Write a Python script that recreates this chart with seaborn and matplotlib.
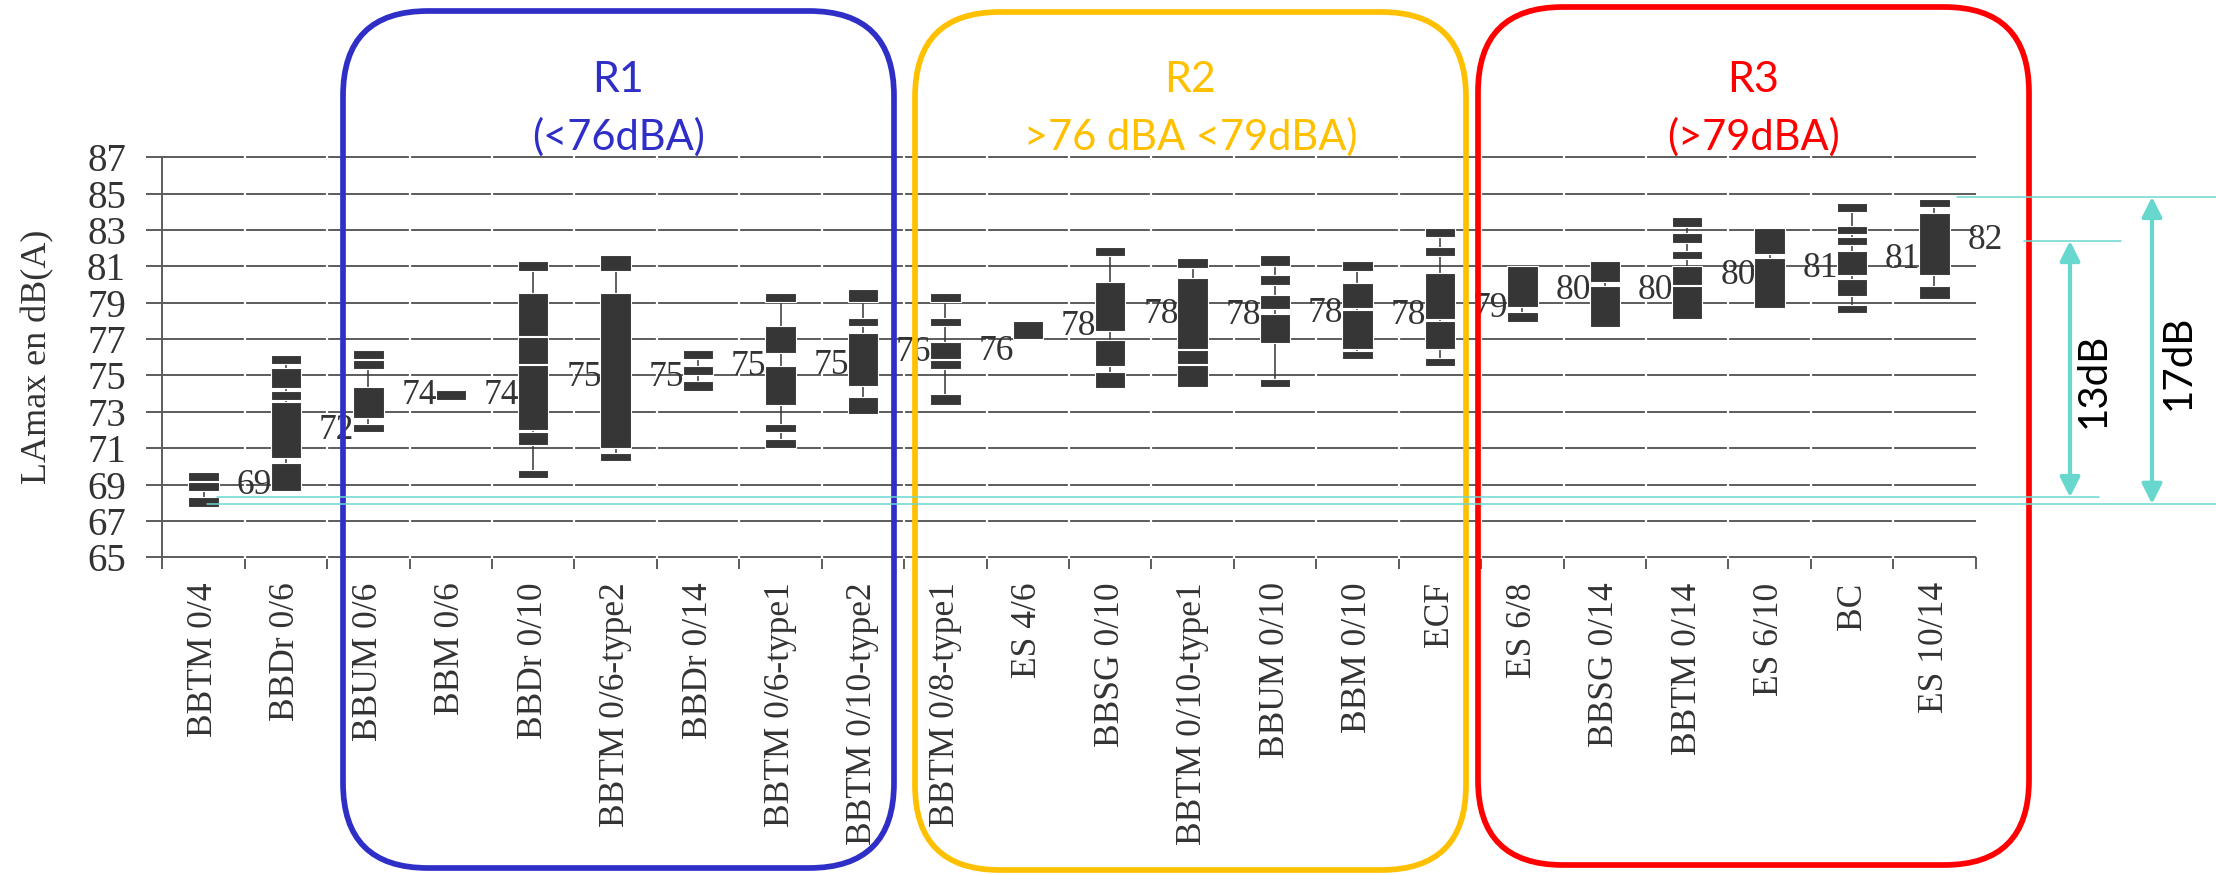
import matplotlib
matplotlib.use("Agg")
import matplotlib.pyplot as plt
import matplotlib.transforms as mtransforms
from matplotlib.patches import FancyBboxPatch
import seaborn as sns

# -------- Data -------- #

categories = [
    "BBTM 0/4", "BBDr 0/6", "BBUM 0/6", "BBM 0/6", "BBDr 0/10", "BBTM 0/6-type2",
    "BBDr 0/14", "BBTM 0/6-type1", "BBTM 0/10-type2", "BBTM 0/8-type1", "ES 4/6",
    "BBSG 0/10", "BBTM 0/10-type1", "BBUM 0/10", "BBM 0/10", "ECF", "ES 6/8",
    "BBSG 0/14", "BBTM 0/14", "ES 6/10", "BC", "ES 10/14",
]

# dark blocks (low, high) in dB(A) for each category
segments = [
    [(69.18, 69.71), (68.64, 69.13), (67.78, 68.33)],
    [(75.64, 76.12), (74.30, 75.41), (73.66, 74.17), (70.44, 73.53), (68.64, 70.18)],
    [(75.90, 76.38), (75.38, 75.83), (72.64, 74.34), (71.87, 72.33)],
    [(73.66, 74.19)],
    [(80.77, 81.32), (77.19, 79.53), (75.64, 77.10), (71.98, 75.55), (71.19, 71.89), (69.34, 69.82)],
    [(80.77, 81.60), (71.00, 79.53), (70.27, 70.76)],
    [(75.90, 76.38), (75.03, 75.52), (74.17, 74.69)],
    [(79.02, 79.53), (76.21, 77.71), (73.38, 75.52), (71.87, 72.33), (71.00, 71.51)],
    [(79.02, 79.77), (77.70, 78.17), (74.43, 77.36), (72.89, 73.84)],
    [(79.02, 79.53), (77.70, 78.17), (75.90, 76.84), (75.38, 75.83), (73.38, 74.00)],
    [(77.02, 77.98)],
    [(81.55, 82.05), (77.42, 80.15), (75.50, 76.96), (74.30, 75.20)],
    [(80.90, 81.45), (76.47, 80.34), (75.64, 76.38), (74.39, 75.55)],
    [(81.04, 81.60), (80.00, 80.53), (78.68, 79.40), (76.81, 78.40), (74.35, 74.83)],
    [(80.77, 81.32), (78.70, 80.08), (76.47, 78.58), (75.90, 76.36)],
    [(82.60, 83.09), (81.55, 82.05), (78.11, 80.66), (76.47, 77.98), (75.52, 75.95)],
    [(78.75, 81.00), (77.96, 78.47)],
    [(80.15, 81.31), (77.69, 79.91)],
    [(83.18, 83.73), (82.27, 82.82), (81.40, 81.85), (80.00, 81.00), (78.11, 79.94)],
    [(81.69, 83.09), (78.70, 81.45)],
    [(83.98, 84.49), (82.76, 83.22), (82.15, 82.64), (80.51, 81.85), (79.35, 80.32), (78.42, 78.88)],
    [(84.27, 84.72), (80.51, 83.96), (79.20, 79.91)],
]

mean_labels = [69, 72, 74, 74, 75, 75, 75, 75, 76, 76, 78, 78, 78, 78, 78, 79, 80, 80, 80, 81, 81, 82]
mean_label_y = [68.94, 72.0, 73.9, 73.9, 74.9, 74.9, 75.47, 75.55, 76.24, 76.3, 77.69,
                78.34, 78.3, 78.4, 78.3, 78.71, 79.68, 79.68, 80.5, 80.9, 81.36, 82.4]

y_ticks = list(range(65, 88, 2))

region_titles = ["R1", "R2", "R3"]
region_ranges = ["(<76dBA)", ">76 dBA <79dBA)", "(>79dBA)"]

# spread markers (dB) on the right
span_13_low, span_13_high = 68.3, 82.41
span_17_low, span_17_high = 67.93, 84.83

# -------- Styling -------- #

sns.set_theme(style="white")
plt.rcParams["font.family"] = ["Liberation Serif", "DejaVu Serif"]

W, H = 2216, 875
GRID = "#5c5c5c"
BOX = "#363636"
TEXT = "#333333"
CYAN = "#68d8cf"
REGION_COLORS = ["#2f2fc8", "#ffc000", "#ff0000"]

fig = plt.figure(figsize=(W / 100, H / 100), dpi=100)
fig.patch.set_facecolor("white")
ax = fig.add_axes([162.3 / W, 1 - 557.3 / H, 1813.4 / W, 400 / H])
ax.set_facecolor("white")

n = len(categories)
ax.set_xlim(-0.5, n - 0.5)
ax.set_ylim(65, 87)

# grid lines, broken at each category boundary like the original
ax.hlines(y_ticks, -0.5, n - 0.5, color=GRID, lw=1.4, zorder=1, clip_on=False)
ax.vlines([i + 0.5 for i in range(n - 1)], 64.9, 87.1, color="white", lw=1.6,
          zorder=1.2, clip_on=False)

for i, segs in enumerate(segments):
    lows = [a for a, b in segs]
    highs = [b for a, b in segs]
    ax.vlines(i, min(lows), max(highs), color=BOX, lw=1.1, zorder=2)
    ax.text(i + 0.40, mean_label_y[i], str(mean_labels[i]), fontsize=25.5, color=TEXT,
            ha="left", va="center", zorder=2.5)
    ax.bar([i] * len(segs), [b - a for a, b in segs], bottom=lows, width=0.37,
           color=BOX, edgecolor="white", linewidth=0.8, zorder=3)

# axes and ticks
for side in ["top", "right", "bottom"]:
    ax.spines[side].set_visible(False)
ax.spines["left"].set_color(GRID)
ax.spines["left"].set_linewidth(1.4)

ax.set_yticks(y_ticks)
ax.tick_params(axis="y", which="major", left=True, direction="out", length=11.2,
               width=1.4, color=GRID, pad=15, labelsize=28, labelcolor=TEXT)

ax.set_xticks([i - 0.5 for i in range(n + 1)])
ax.set_xticklabels([])
ax.set_xticks(range(n), minor=True)
ax.set_xticklabels(categories, minor=True, rotation=90, fontsize=25.5, color=TEXT)
ax.tick_params(axis="x", which="major", bottom=True, direction="out", length=8.6,
               width=1.4, color=GRID)
ax.tick_params(axis="x", which="minor", bottom=True, length=0, pad=18)

ax.set_ylabel("LAmax en dB(A)", fontsize=26, color=TEXT)
ax.yaxis.set_label_coords((54 - 162.3) / 1813.4, 0.5)

# -------- Annotation overlay (pixel coordinates) -------- #

ov = fig.add_axes([0, 0, 1, 1], zorder=10)
ov.set_xlim(0, W)
ov.set_ylim(H, 0)
ov.axis("off")
ov.patch.set_alpha(0)

region_boxes = [(343, 894, 11, 868), (915, 1466, 12, 870), (1478, 2029, 7, 865)]
for (x0, x1, y0, y1), title, rng, col in zip(region_boxes, region_titles, region_ranges,
                                             REGION_COLORS):
    ov.add_patch(FancyBboxPatch((x0, y0), x1 - x0, y1 - y0,
                                boxstyle="round,pad=0,rounding_size=85",
                                fill=False, ec=col, lw=4.1))
    cx = (x0 + x1) / 2
    ov.text(cx, 80, title, ha="center", va="center", fontsize=31, color=col, family="Lato")
    ov.text(cx, 137, rng, ha="center", va="center", fontsize=30, color=col, family="Lato")

blend = mtransforms.blended_transform_factory(ov.transData, ax.transData)
ov.plot([1957, W], [span_17_high] * 2, transform=blend, color=CYAN, lw=1.1, clip_on=False)
ov.plot([2024, 2121], [span_13_high] * 2, transform=blend, color=CYAN, lw=1.1, clip_on=False)
ov.plot([217, 2099], [span_13_low] * 2, transform=blend, color=CYAN, lw=1.1, clip_on=False)
ov.plot([207, W], [span_17_low] * 2, transform=blend, color=CYAN, lw=1.1, clip_on=False)

arrow = dict(arrowstyle="<|-|>,head_length=0.6,head_width=0.3", color=CYAN, lw=3,
             shrinkA=0, shrinkB=0, mutation_scale=20)
ov.annotate("", xy=(2070, span_13_high), xycoords=blend,
            xytext=(2070, span_13_low), textcoords=blend, arrowprops=arrow)
ov.annotate("", xy=(2152, span_17_high), xycoords=blend,
            xytext=(2152, span_17_low), textcoords=blend, arrowprops=arrow)

ov.text(2093, 380, "13dB", rotation=90, ha="center", va="center", fontsize=29,
        color="black", family="Lato")
ov.text(2178, 362, "17dB", rotation=90, ha="center", va="center", fontsize=29,
        color="black", family="Lato")

fig.savefig("out.png", dpi=100)
plt.close(fig)
